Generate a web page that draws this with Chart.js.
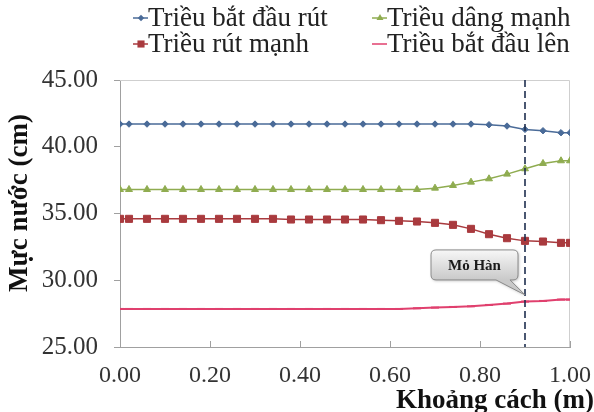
<!DOCTYPE html>
<html>
<head>
<meta charset="utf-8">
<script src="https://cdn.jsdelivr.net/npm/chart.js@4"></script>
<style>
  html, body { margin: 0; padding: 0; background: #fff; }
  #wrap { width: 594px; height: 412px; }
</style>
</head>
<body>
<div id="wrap"><canvas id="mucNuocChart" width="594" height="412"></canvas></div>
<script>
// Khoảng cách (m) - vị trí các điểm đo
const xPos = [0.00, 0.02, 0.06, 0.10, 0.14, 0.18, 0.22, 0.26, 0.30, 0.34, 0.38, 0.42, 0.46, 0.50,
              0.54, 0.58, 0.62, 0.66, 0.70, 0.74, 0.78, 0.82, 0.86, 0.90, 0.94, 0.98, 1.00];

// Mực nước (cm) cho từng trường hợp
const trieuBatDauRut = [41.70, 41.70, 41.70, 41.70, 41.70, 41.70, 41.70, 41.70, 41.70, 41.70, 41.70, 41.70, 41.70, 41.70,
                        41.70, 41.70, 41.70, 41.70, 41.70, 41.70, 41.70, 41.65, 41.55, 41.30, 41.20, 41.05, 41.05];
const trieuDangManh = [36.80, 36.80, 36.80, 36.80, 36.80, 36.80, 36.80, 36.80, 36.80, 36.80, 36.80, 36.80, 36.80, 36.80,
                       36.80, 36.80, 36.80, 36.80, 36.90, 37.10, 37.35, 37.60, 37.95, 38.35, 38.75, 38.95, 38.95];
const trieuRutManh = [34.60, 34.60, 34.60, 34.60, 34.60, 34.60, 34.60, 34.60, 34.60, 34.60, 34.55, 34.55, 34.55, 34.55,
                      34.55, 34.50, 34.45, 34.40, 34.30, 34.15, 33.85, 33.45, 33.15, 32.95, 32.90, 32.80, 32.80];
const trieuBatDauLen = [27.85, 27.85, 27.85, 27.85, 27.85, 27.85, 27.85, 27.85, 27.85, 27.85, 27.85, 27.85, 27.85, 27.85,
                        27.85, 27.85, 27.85, 27.90, 27.95, 28.00, 28.05, 28.15, 28.25, 28.40, 28.45, 28.55, 28.55];

const seriesNames = ["Triều bắt đầu rút", "Triều dâng mạnh", "Triều rút mạnh", "Triều bắt đầu lên"];
const yMin = 25, yMax = 45, yStep = 5;
const xMin = 0, xMax = 1, xStep = 0.2;
const yTitle = "Mực nước (cm)";
const xTitle = "Khoảng cách (m)";
const moHanX = 0.90;     // vị trí mỏ hàn
const moHanLabel = "Mỏ Hàn";
const moHanTip = 28.9;   // đầu mũi chú thích

const SERIF = "'Liberation Serif', 'Times New Roman', serif";

function toPoints(arr) {
    return xPos.map((x, i) => ({ x: x, y: arr[i] }));
}

const styles = [
    { color: "#4a6b98", pointStyle: "rectRot", r: 3.2 },
    { color: "#8fac50", pointStyle: "triangle", r: 4 },
    { color: "#a93a3e", pointStyle: "rect", r: 5 },
    { color: "#e0406e", pointStyle: "line", r: 4 }
];
const seriesData = [trieuBatDauRut, trieuDangManh, trieuRutManh, trieuBatDauLen];

// vẽ ký hiệu chú giải
function drawMarker(ctx, style, x, y) {
    ctx.save();
    ctx.fillStyle = style.color;
    ctx.strokeStyle = style.color;
    ctx.lineWidth = 1.5;
    ctx.beginPath();
    ctx.moveTo(x - 8, y); ctx.lineTo(x + 7, y);
    ctx.stroke();
    const r = style.r;
    ctx.beginPath();
    if (style.pointStyle === "rectRot") {
        ctx.moveTo(x, y - r); ctx.lineTo(x + r, y); ctx.lineTo(x, y + r); ctx.lineTo(x - r, y);
        ctx.closePath(); ctx.fill();
    } else if (style.pointStyle === "triangle") {
        ctx.moveTo(x, y - r); ctx.lineTo(x + r * 0.87, y + r * 0.5); ctx.lineTo(x - r * 0.87, y + r * 0.5);
        ctx.closePath(); ctx.fill();
    } else if (style.pointStyle === "rect") {
        const s = r * 0.71;
        ctx.fillRect(x - s, y - s, 2 * s, 2 * s);
    }
    ctx.restore();
}

const overlay = {
    id: "overlay",
    beforeDatasetsDraw(chart) {
        const { ctx, chartArea: a } = chart;
        ctx.save();
        ctx.strokeStyle = "#cfcfcf";
        ctx.lineWidth = 1;
        ctx.beginPath();
        ctx.moveTo(a.left, a.top + 0.5); ctx.lineTo(a.right - 0.5, a.top + 0.5); ctx.lineTo(a.right - 0.5, a.bottom);
        ctx.stroke();
        // vạch chia trục x hướng vào trong
        const xs = chart.scales.x;
        ctx.strokeStyle = "#a0a0a0";
        for (let v = xMin; v <= xMax + 1e-9; v += xStep) {
            const px = Math.round(xs.getPixelForValue(v)) + 0.5;
            ctx.beginPath();
            ctx.moveTo(px, a.bottom); ctx.lineTo(px, a.bottom - 6);
            ctx.stroke();
        }
        ctx.restore();
    },
    afterDatasetsDraw(chart) {
        const { ctx, chartArea: a } = chart;
        const xs = chart.scales.x, ys = chart.scales.y;
        const px = xs.getPixelForValue(moHanX);
        ctx.save();
        // đường nét đứt tại mỏ hàn
        ctx.strokeStyle = "#1f2f4f";
        ctx.lineWidth = 1.6;
        ctx.setLineDash([7, 4]);
        ctx.beginPath();
        ctx.moveTo(px, a.top); ctx.lineTo(px, a.bottom);
        ctx.stroke();
        ctx.setLineDash([]);

        // hộp chú thích "Mỏ Hàn"
        const tipY = ys.getPixelForValue(moHanTip);
        const w = 87, h = 30;
        const bx = px - 94, by = tipY - 45;
        const g = ctx.createLinearGradient(0, by, 0, by + h);
        g.addColorStop(0, "#f7f7f7");
        g.addColorStop(1, "#c9c9c9");
        ctx.shadowColor = "rgba(0,0,0,0.25)";
        ctx.shadowBlur = 3;
        ctx.shadowOffsetX = 1;
        ctx.shadowOffsetY = 1;
        ctx.fillStyle = g;
        ctx.strokeStyle = "#8a8a8a";
        ctx.lineWidth = 1;
        const rr = 5;
        ctx.beginPath();
        ctx.moveTo(bx + rr, by);
        ctx.lineTo(bx + w - rr, by);
        ctx.quadraticCurveTo(bx + w, by, bx + w, by + rr);
        ctx.lineTo(bx + w, by + h - rr);
        ctx.quadraticCurveTo(bx + w, by + h, bx + w - rr, by + h);
        ctx.lineTo(bx + w - 8, by + h);
        ctx.lineTo(px, tipY);
        ctx.lineTo(bx + w - 22, by + h);
        ctx.lineTo(bx + rr, by + h);
        ctx.quadraticCurveTo(bx, by + h, bx, by + h - rr);
        ctx.lineTo(bx, by + rr);
        ctx.quadraticCurveTo(bx, by, bx + rr, by);
        ctx.closePath();
        ctx.fill();
        ctx.shadowColor = "transparent";
        ctx.stroke();
        ctx.fillStyle = "#1a1a1a";
        ctx.font = "bold 15px " + SERIF;
        ctx.textAlign = "center";
        ctx.textBaseline = "middle";
        ctx.fillText(moHanLabel, bx + w / 2, by + h / 2 + 1);
        ctx.restore();
    },
    afterDraw(chart) {
        const { ctx } = chart;
        ctx.save();
        // chú giải 2 hàng x 2 cột
        const cols = [141, 380];
        const rows = [18, 44];
        ctx.font = "27px " + SERIF;
        ctx.textAlign = "left";
        ctx.textBaseline = "middle";
        seriesNames.forEach((name, i) => {
            const cx = cols[i % 2], cy = rows[Math.floor(i / 2)];
            drawMarker(ctx, styles[i], cx, cy);
            ctx.fillStyle = "#222";
            ctx.fillText(name, cx + 7, cy + 1);
        });
        // tiêu đề trục x
        ctx.font = "bold 27px " + SERIF;
        ctx.fillStyle = "#111";
        ctx.textAlign = "right";
        ctx.fillText(xTitle, 594, 401);
        // tiêu đề trục y
        ctx.translate(20, 203);
        ctx.rotate(-Math.PI / 2);
        ctx.textAlign = "center";
        ctx.fillText(yTitle, 0, 0);
        ctx.restore();
    }
};

const ctx = document.getElementById("mucNuocChart").getContext("2d");
const chart = new Chart(ctx, {
    type: "line",
    data: {
        datasets: seriesNames.map((name, i) => ({
            label: name,
            data: toPoints(seriesData[i]),
            borderColor: styles[i].color,
            backgroundColor: styles[i].color,
            borderWidth: i === 3 ? 2 : 1.5,
            pointStyle: styles[i].pointStyle,
            pointRadius: styles[i].r,
            pointBorderWidth: i === 3 ? 2 : 1,
            pointBackgroundColor: styles[i].color,
            pointBorderColor: styles[i].color,
            tension: 0,
            fill: false
        }))
    },
    options: {
        responsive: false,
        animation: false,
        layout: { padding: { top: 80, right: 24, left: 0, bottom: 0 } },
        plugins: {
            legend: { display: false },
            tooltip: { enabled: false }
        },
        scales: {
            x: {
                type: "linear",
                min: xMin,
                max: xMax,
                afterFit: (s) => { s.height = 65; s.paddingLeft = 0; s.paddingRight = 0; },
                grid: { display: true, drawOnChartArea: false, drawTicks: false },
                border: { color: "#a0a0a0", width: 1 },
                ticks: {
                    stepSize: xStep,
                    padding: 14,
                    color: "#333",
                    font: { family: SERIF, size: 24 },
                    callback: (v) => Number(v).toFixed(2)
                }
            },
            y: {
                min: yMin,
                max: yMax,
                afterFit: (s) => { s.width = 120; },
                grid: { display: true, drawOnChartArea: false, tickLength: 6, color: "#a0a0a0" },
                border: { color: "#a0a0a0", width: 1 },
                ticks: {
                    stepSize: yStep,
                    padding: 16,
                    color: "#333",
                    font: { family: SERIF, size: 25 },
                    callback: (v) => Number(v).toFixed(2)
                }
            }
        }
    },
    plugins: [overlay]
});
</script>
</body>
</html>
